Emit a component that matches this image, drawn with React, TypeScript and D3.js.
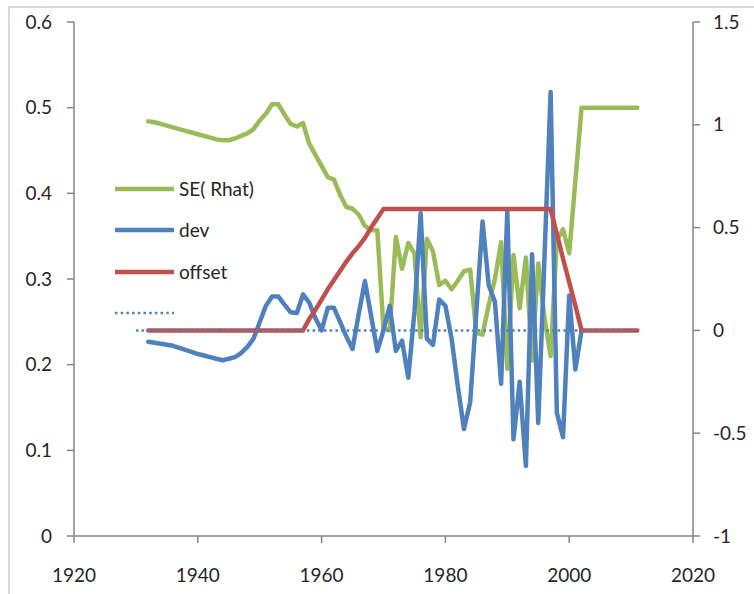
import React from "react";
import * as d3 from "d3";

const years: number[] = d3.range(1932, 2012);

const seRhat: (number | null)[] = [
  0.484, 0.483, 0.481, 0.479, 0.477, 0.475, 0.473, 0.471, 0.469, 0.467,
  0.465, 0.463, 0.462, 0.462, 0.464, 0.467, 0.47, 0.475, 0.485, 0.493,
  0.504, 0.504, 0.492, 0.481, 0.478, 0.482, 0.458, 0.445, 0.432, 0.419,
  0.416, 0.398, 0.384, 0.382, 0.375, 0.362, 0.357, 0.357, 0.242, 0.24,
  0.349, 0.312, 0.342, 0.33, 0.232, 0.347, 0.332, 0.293, 0.298, 0.288,
  0.298, 0.309, 0.311, 0.237, 0.235, 0.27, 0.3, 0.343, 0.195, 0.328,
  0.266, 0.325, 0.205, 0.318, 0.255, 0.21, 0.345, 0.358, 0.33, 0.415,
  0.5, 0.5, 0.5, 0.5, 0.5, 0.5, 0.5, 0.5, 0.5, 0.5,
];

const dev: (number | null)[] = [
  -0.055, -0.06, -0.065, -0.07, -0.075, -0.085, -0.095, -0.105, -0.115, -0.122,
  -0.13, -0.138, -0.145, -0.138, -0.13, -0.11, -0.08, -0.04, 0.04, 0.12,
  0.165, 0.165, 0.125, 0.088, 0.085, 0.175, 0.135, 0.06, 0.0, 0.11,
  0.11, 0.04, -0.03, -0.09, 0.08, 0.24, 0.07, -0.1, 0.0, 0.12,
  -0.1, -0.05, -0.23, 0.09, 0.57, -0.04, -0.07, 0.15, 0.12, -0.04,
  -0.27, -0.48, -0.35, 0.09, 0.53, 0.22, 0.14, -0.26, 0.58, -0.53,
  -0.25, -0.66, 0.37, -0.45, 0.35, 1.16, -0.4, -0.52, 0.17, -0.19,
  0.0, null, null, null, null, null, null, null, null, null,
];

const offset: (number | null)[] = [
  0, 0, 0, 0, 0, 0, 0, 0, 0, 0,
  0, 0, 0, 0, 0, 0, 0, 0, 0, 0,
  0, 0, 0, 0, 0, 0, 0.055, 0.1, 0.15, 0.2,
  0.245, 0.29, 0.335, 0.375, 0.41, 0.45, 0.5, 0.545, 0.59, 0.59,
  0.59, 0.59, 0.59, 0.59, 0.59, 0.59, 0.59, 0.59, 0.59, 0.59,
  0.59, 0.59, 0.59, 0.59, 0.59, 0.59, 0.59, 0.59, 0.59, 0.59,
  0.59, 0.59, 0.59, 0.59, 0.59, 0.59, 0.47, 0.35, 0.235, 0.12,
  0, 0, 0, 0, 0, 0, 0, 0, 0, 0,
];

const zeroYears: number[] = [1930, 2011];
const zeroValues: number[] = [0, 0];

const xTicks: number[] = [1920, 1940, 1960, 1980, 2000, 2020];
const leftTicks: number[] = [0, 0.1, 0.2, 0.3, 0.4, 0.5, 0.6];
const rightTicks: number[] = [-1, -0.5, 0, 0.5, 1, 1.5];
const legendNames: string[] = ["SE( Rhat)", "dev", "offset", ""];

const GREEN = "#9BBB59";
const BLUE = "#4F81BD";
const RED = "#C0504D";
const AXIS = "#868686";
const TEXT = "#262626";
const FONT = "Lato, 'Open Sans', sans-serif";

export default function App() {
  const W = 754, H = 594;
  const x = d3.scaleLinear().domain([1920, 2020]).range([74, 693]);
  const yL = d3.scaleLinear().domain([0, 0.6]).range([536, 22]);
  const yR = d3.scaleLinear().domain([-1, 1.5]).range([536, 22]);

  const mkLine = (ys: d3.ScaleLinear<number, number>) =>
    d3
      .line<[number, number | null]>()
      .defined((d) => d[1] !== null)
      .x((d) => x(d[0]))
      .y((d) => ys(d[1] as number));

  const zip = (vals: (number | null)[]) =>
    years.map((yr, i) => [yr, vals[i]] as [number, number | null]);

  const gPath = mkLine(yL)(zip(seRhat)) || "";
  const bPath = mkLine(yR)(zip(dev)) || "";
  const rPath = mkLine(yR)(zip(offset)) || "";
  const zPath =
    mkLine(yR)(zeroYears.map((yr, i) => [yr, zeroValues[i]] as [number, number])) || "";

  const legendColors = [GREEN, BLUE, RED, BLUE];
  const legendY = [189, 230, 272, 313];
  const fmt = (t: number) => String(+t.toFixed(2));

  return (
    <svg
      width={W}
      height={H}
      style={{ position: "absolute", left: 0, top: 0, background: "#fff" }}
      fontFamily={FONT}
    >
      <rect x={0} y={0} width={W} height={H} fill="#fff" />
      <rect x={9} y={7} width={900} height={900} fill="none" stroke="#d9d9d9" strokeWidth={2} />

      {/* axes */}
      <line x1={x(1920)} x2={x(1920)} y1={yL(0.6)} y2={yL(0)} stroke={AXIS} strokeWidth={1.5} />
      <line x1={x(2020)} x2={x(2020)} y1={yR(1.5)} y2={yR(-1)} stroke={AXIS} strokeWidth={1.5} />
      <line x1={x(1920)} x2={x(2020)} y1={yL(0)} y2={yL(0)} stroke={AXIS} strokeWidth={1.5} />

      {leftTicks.map((t) => (
        <g key={"l" + t}>
          <line x1={x(1920) - 7} x2={x(1920)} y1={yL(t)} y2={yL(t)} stroke={AXIS} strokeWidth={1.5} />
          <text x={52} y={yL(t)} dy="0.35em" textAnchor="end" fontSize={19} fill={TEXT}>
            {fmt(t)}
          </text>
        </g>
      ))}
      {rightTicks.map((t) => (
        <g key={"r" + t}>
          <line x1={x(2020)} x2={x(2020) + 7} y1={yR(t)} y2={yR(t)} stroke={AXIS} strokeWidth={1.5} />
          <text x={713} y={yR(t)} dy="0.35em" textAnchor="start" fontSize={19} fill={TEXT}>
            {fmt(t)}
          </text>
        </g>
      ))}
      {xTicks.map((t) => (
        <g key={"x" + t}>
          <line x1={x(t)} x2={x(t)} y1={yL(0)} y2={yL(0) + 7} stroke={AXIS} strokeWidth={1.5} />
          <text x={x(t)} y={582} textAnchor="middle" fontSize={19} fill={TEXT}>
            {t}
          </text>
        </g>
      ))}

      {/* series */}
      <path d={gPath} fill="none" stroke={GREEN} strokeWidth={4.5} strokeLinejoin="round" strokeLinecap="round" />
      <path d={bPath} fill="none" stroke={BLUE} strokeWidth={4.5} strokeLinejoin="round" strokeLinecap="round" />
      <path d={rPath} fill="none" stroke={RED} strokeWidth={4.5} strokeLinejoin="round" strokeLinecap="round" />
      <path d={zPath} fill="none" stroke={BLUE} strokeWidth={2.5} strokeDasharray="2.5 3.2" />

      {/* legend */}
      {legendNames.map((name, i) => (
        <g key={"lg" + i}>
          <line
            x1={115}
            x2={174}
            y1={legendY[i]}
            y2={legendY[i]}
            stroke={legendColors[i]}
            strokeWidth={i === 3 ? 2.5 : 4.5}
            strokeDasharray={i === 3 ? "2.5 3.2" : undefined}
          />
          {name && (
            <text x={179} y={legendY[i]} dy="0.35em" fontSize={19} fill={TEXT}>
              {name}
            </text>
          )}
        </g>
      ))}
    </svg>
  );
}
